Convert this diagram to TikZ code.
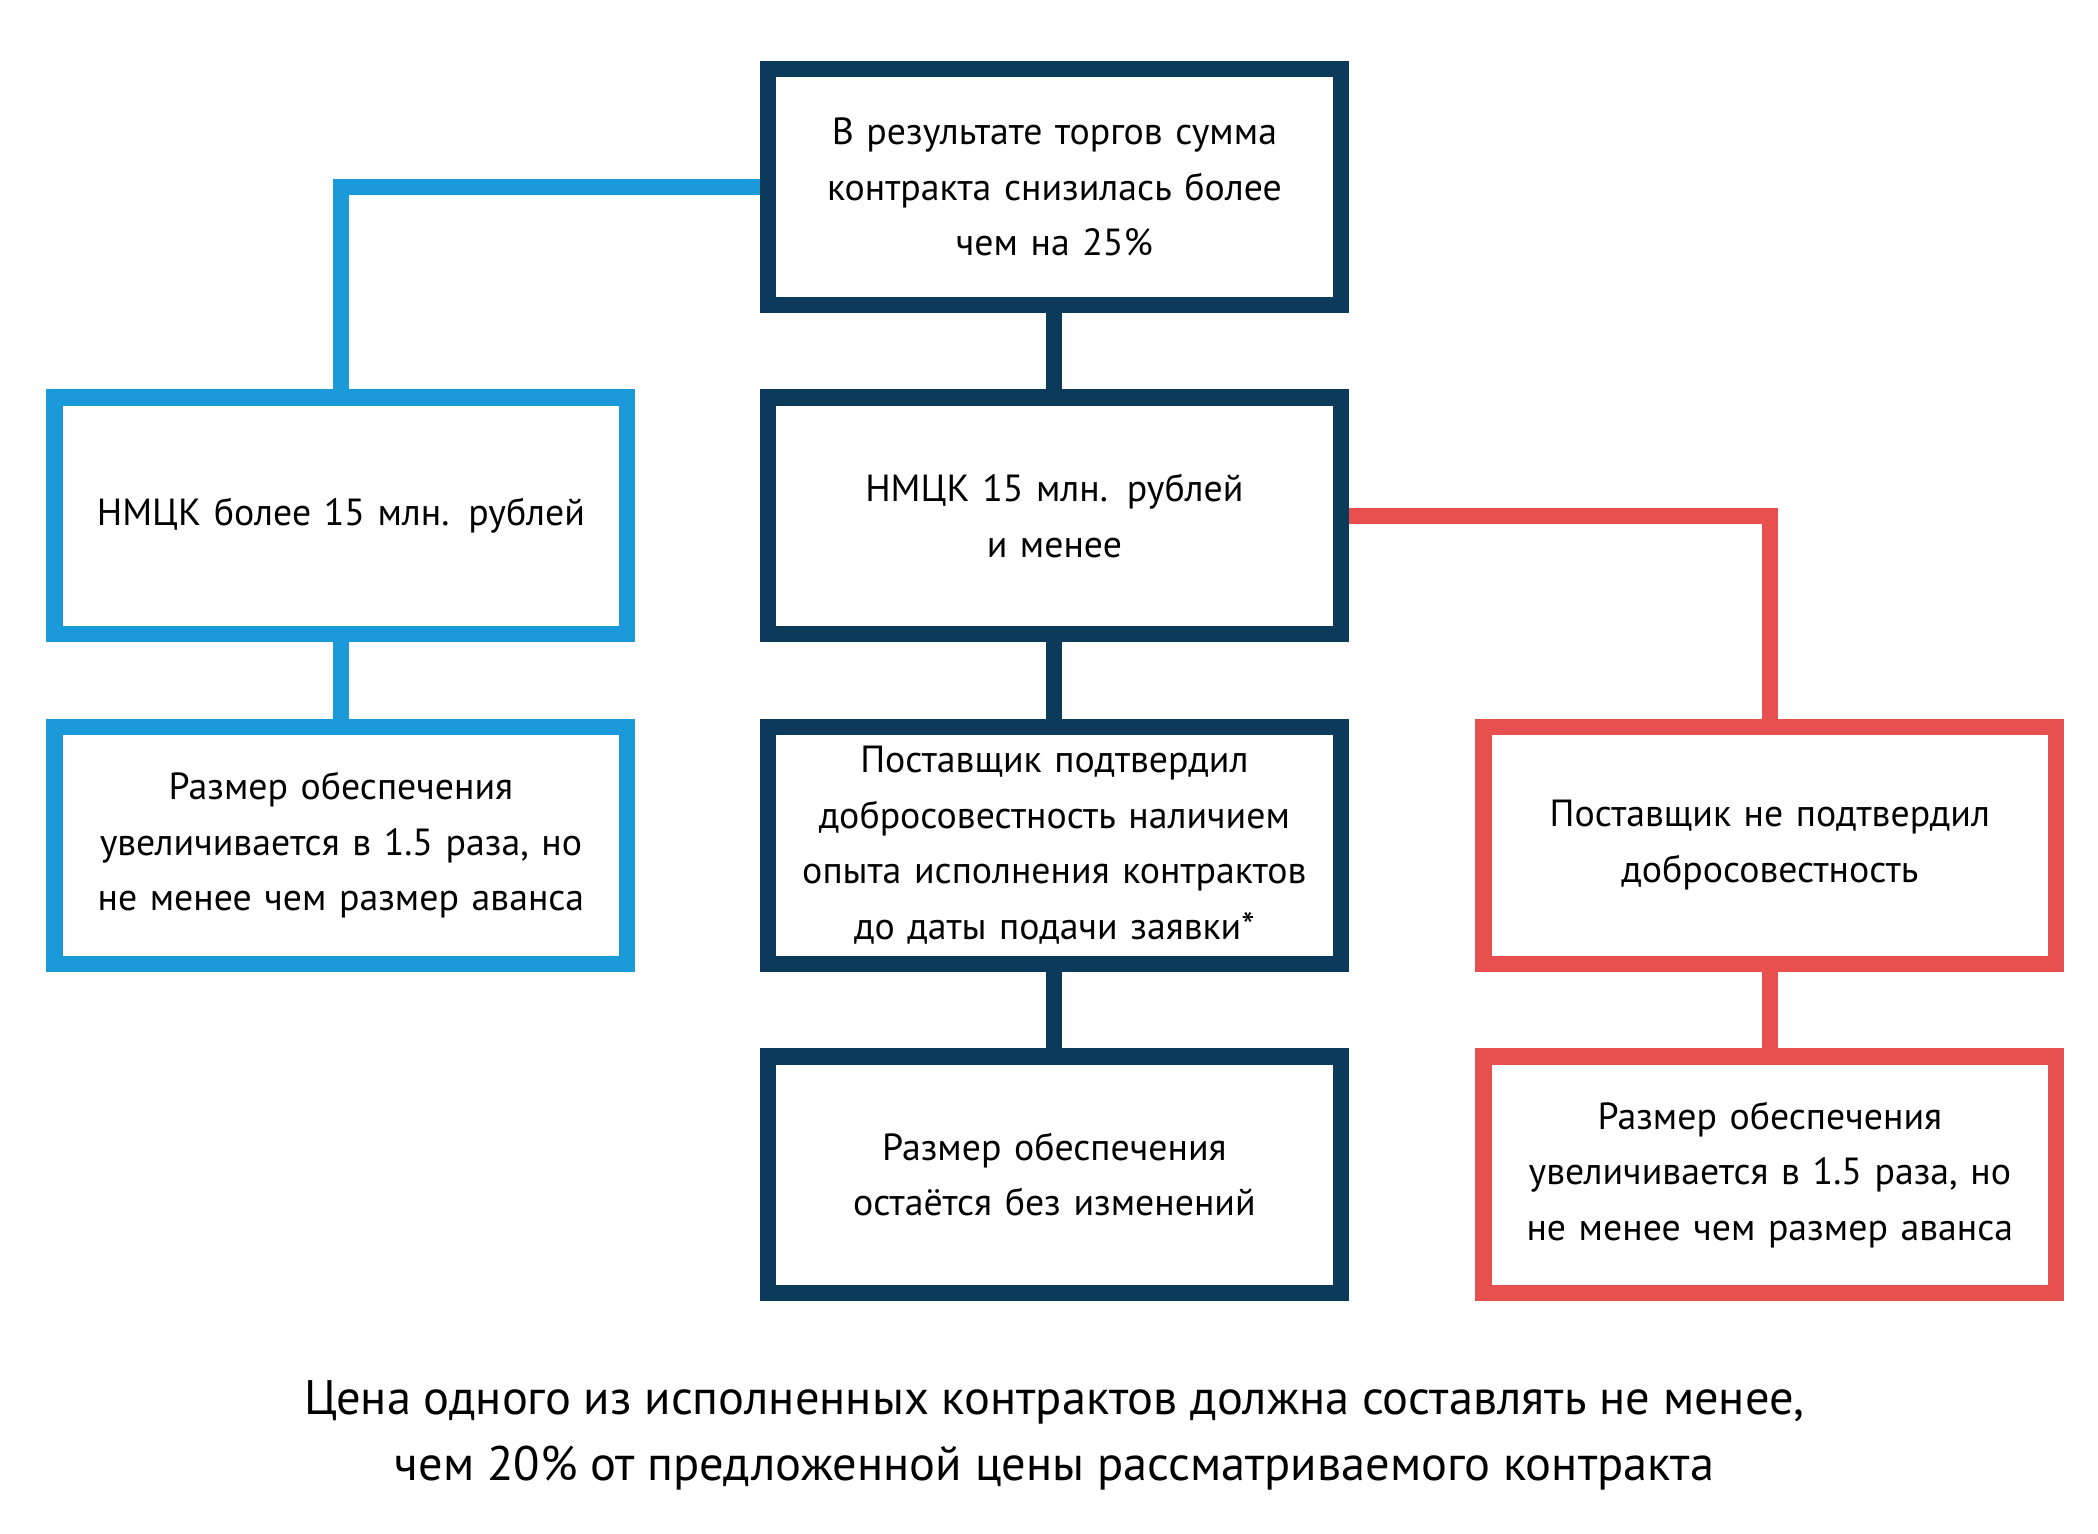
\documentclass[tikz,border=0pt]{standalone}
\usepackage{fontspec}
\setmainfont{PT Sans}
\usetikzlibrary{positioning}
\definecolor{navy}{HTML}{0B3A5B}
\definecolor{lblue}{HTML}{1A9AD8}
\definecolor{lred}{HTML}{E8504F}

\begin{document}
\begin{tikzpicture}[
			x=0.02cm, y=-0.02cm,
			box/.style={rectangle, draw=#1, line width=0.24cm, minimum width=8.52cm, minimum height=3.52cm, text width=8.1cm, align=center, fill=white, font=\fontsize{16}{23.5}\selectfont, inner sep=0pt},
			link/.style={line width=0.24cm}
			]
			\useasboundingbox (0,0) rectangle (1560,1140);
			
			% Boxes
			\node[box=navy] (top) at (784,139) {В результате торгов сумма\\контракта снизилась более\\чем на 25\%};
			\node[box=lblue] (big) at (253.5,383.5) {НМЦК более 15 млн. рублей};
			\node[box=navy] (small) at (784,383.5) {НМЦК 15 млн. рублей\\и менее};
			\node[box=lblue] (bigres) at (253.5,628.5) {Размер обеспечения\\увеличивается в 1.5 раза, но\\не менее чем размер аванса};
			\node[box=navy] (proved) at (784,628.5) {Поставщик подтвердил\\добросовестность наличием\\опыта исполнения контрактов\\до даты подачи заявки*};
			\node[box=lred] (notproved) at (1316,628.5) {Поставщик не подтвердил\\добросовестность};
			\node[box=navy] (same) at (784,873.5) {Размер обеспечения\\остаётся без изменений};
			\node[box=lred] (more) at (1316,873.5) {Размер обеспечения\\увеличивается в 1.5 раза, но\\не менее чем размер аванса};
			
			% Connectors
			\draw[link, lblue] (top.west) -| (big.north);
			\draw[link, lblue] (big) -- (bigres);
			\draw[link, navy] (top) -- (small);
			\draw[link, navy] (small) -- (proved);
			\draw[link, navy] (proved) -- (same);
			\draw[link, lred] (small.east) -| (notproved.north);
			\draw[link, lred] (notproved) -- (more);
			
			% Footnote
			\node[align=center, font=\fontsize{20.5}{28}\selectfont] (note) at (784,1067) {Цена одного из исполненных контрактов должна составлять не менее,\\чем 20\% от предложенной цены рассматриваемого контракта};
			
\end{tikzpicture}
\end{document}
